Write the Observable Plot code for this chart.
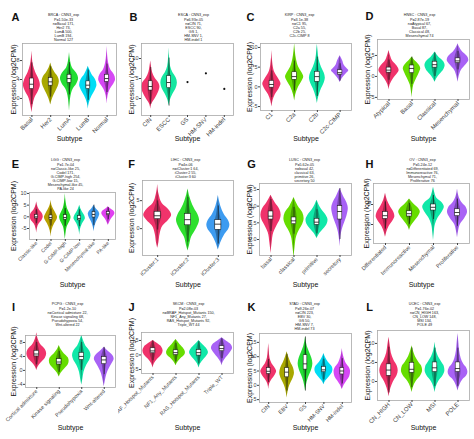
<!DOCTYPE html>
<html><head><meta charset="utf-8">
<script src="https://cdn.jsdelivr.net/npm/d3@7"></script>
<script src="https://cdn.jsdelivr.net/npm/@observablehq/plot@0.6"></script>
<style>
body{margin:0;background:#fff;}
#wrap{position:relative;width:474px;height:439px;overflow:hidden;background:#fff;}
#wrap svg{position:absolute;overflow:hidden;}
</style></head><body><div id="wrap"></div>
<script>
// ---------- palettes ----------
const pal3 = ["#F0336B", "#2EE02E", "#3D9BF0"];
const pal4 = ["#F0336B", "#66DD00", "#10E8A8", "#A862F5"];
const pal5 = ["#F0336B", "#A8A800", "#22DD33", "#00DDF5", "#D648F5"];
const pal2B = ["#F0336B", "#14E6A0", "#333", "#333", "#333"];
const pal6 = ["#F0336B", "#B8A000", "#22DD22", "#10E8A8", "#3D9BF0", "#E040F0"];

// ---------- A: BRCA ----------
const catsA = ["Basal", "Her2", "LumA", "LumB", "Normal"];
const profA = [
  [[-3,0],[-1.5,0.06],[0,0.15],[1.5,0.35],[2.8,0.45],[4,0.38],[5.5,0.2],[7,0.08],[10,0]],
  [[-1.4,0],[0,0.1],[1.5,0.28],[2.5,0.4],[3.5,0.46],[4.5,0.4],[5.5,0.22],[6.5,0.08],[7.5,0]],
  [[-2.7,0],[-1,0.03],[0.5,0.08],[2,0.2],[3,0.38],[4.2,0.48],[5.3,0.38],[6.5,0.15],[8,0.05],[9.7,0]],
  [[-2.3,0],[-1,0.05],[0.5,0.2],[1.8,0.38],[2.8,0.46],[4,0.38],[5,0.2],[6,0.08],[6.8,0]],
  [[-1.2,0],[0.5,0.05],[2,0.18],[3,0.35],[4,0.45],[5,0.38],[6,0.2],[7.5,0.08],[9,0.03],[11,0]]
];
const boxA = [[2,3,4.2],[2.7,3.5,4.3],[3.3,4.2,5],[2,2.8,3.6],[3.5,4.2,5]];
const headA = "BRCA : CNN3_exp\nP=1.50e-33\nn=Basal 171,\nHer2 73,\nLumA 500,\nLumB 194,\nNormal 127";

// ---------- B: ESCA ----------
const catsB = ["CIN", "ESCC", "GS", "HM-SNV", "HM-indel"];
const profB = [
  [[-2.7,0],[-1.5,0.05],[0,0.25],[1.5,0.42],[2.9,0.5],[4,0.42],[5,0.25],[6.5,0.1],[8,0.04],[9.4,0]],
  [[-1.9,0],[-0.5,0.06],[1,0.2],[2.5,0.38],[3.9,0.45],[5.2,0.38],[6.5,0.2],[8,0.08],[10,0.03],[12.7,0]],
  null, null, null
];
const boxB = [[2,3,4.3],[2.6,4,5.6],null,null,null];
const singleB = [[3,4.1],[4,6.3],[5,2.4]];
const headB = "ESCA : CNN3_exp\nP=6.93e-05\nn=CIN 71,\nESCC 90,\nGS 1,\nHM-SNV 1,\nHM-indel 1";

// ---------- C: KIRP ----------
const catsC = ["C1", "C2a", "C2b", "C2c-CIMP"];
const profC = [
  [[-5.1,0],[-3.5,0.05],[-2,0.15],[-0.5,0.32],[0.7,0.4],[2,0.3],[3.5,0.14],[5.5,0.05],[9.2,0]],
  [[-3.6,0],[-2,0.05],[0,0.18],[1.5,0.33],[2.5,0.4],[3.5,0.33],[5,0.18],[7,0.08],[9,0.03],[11,0]],
  [[-4.2,0],[-2.5,0.06],[-0.5,0.18],[1,0.3],[2.2,0.35],[3.5,0.3],[5,0.18],[7,0.07],[9,0.03],[10.8,0]],
  [[1.1,0],[2,0.08],[3,0.22],[3.5,0.3],[4.1,0.38],[4.8,0.28],[5.5,0.18],[6.5,0.12],[7.9,0]]
];
const boxC = [[-0.2,0.6,1.5],[1.8,2.6,3.7],[1.3,2.6,3.8],[3.1,3.6,4.2]];
const headC = "KIRP : CNN3_exp\nP=3.1e-38\nn=C1 95,\nC2a 55,\nC2b 25,\nC2c-CIMP 8";

// ---------- D: HNSC ----------
const catsD = ["Atypical", "Basal", "Classical", "Mesenchymal"];
const profD = [
  [[-3.2,0],[-2,0.05],[-0.5,0.2],[0.5,0.35],[1.4,0.44],[2.5,0.35],[3.5,0.18],[5,0.06],[6.2,0]],
  [[-5.1,0],[-3.5,0.03],[-2,0.08],[-0.5,0.2],[1,0.33],[1.8,0.38],[2.8,0.3],[3.8,0.12],[4.6,0]],
  [[-1.4,0],[-0.5,0.08],[0.5,0.22],[1.6,0.38],[2.6,0.44],[3.5,0.38],[4.5,0.18],[5.8,0]],
  [[-1.4,0],[0,0.05],[1.5,0.15],[2.8,0.35],[3.8,0.47],[4.8,0.4],[5.8,0.2],[7,0.06],[7.8,0]]
];
const boxD = [[0.9,1.5,2.1],[0.8,1.9,2.6],[2.1,2.8,3.5],[3.2,3.7,4.3]];
const headD = "HNSC : CNN3_exp\nP=2.87e-19\nn=Atypical 67,\nBasal 87,\nClassical 48,\nMesenchymal 74";

// ---------- E: LGG ----------
const catsE = ["Classic-like", "Codel", "G-CIMP-high", "G-CIMP-low", "Mesenchymal-like", "PA-like"];
const profE = [
  [[-6.9,0],[-5,0.05],[-3,0.18],[-1.5,0.38],[0,0.46],[1.5,0.38],[3,0.18],[5,0.05],[6.4,0]],
  [[-8.6,0],[-6,0.06],[-3,0.25],[-1.5,0.4],[-0.3,0.46],[1,0.38],[3,0.2],[5,0.06],[7.1,0]],
  [[-9.7,0],[-7,0.05],[-4,0.15],[-2,0.32],[-0.3,0.4],[1.5,0.3],[3.5,0.15],[6,0.06],[10,0]],
  [[-7.9,0],[-5.5,0.05],[-3,0.2],[-1.5,0.35],[-0.7,0.4],[0.5,0.35],[2,0.2],[3.5,0.08],[5,0]],
  [[-6.4,0],[-4.5,0.05],[-2.5,0.15],[-0.5,0.32],[1.1,0.4],[2.5,0.3],[3.5,0.15],[5,0]],
  [[-3.6,0],[-2.5,0.08],[-1,0.2],[0.3,0.38],[1.4,0.46],[2.5,0.38],[3.5,0.15],[4.3,0]]
];
const boxE = [[-0.7,0,0.8],[-1.2,-0.3,0.6],[-1.2,-0.3,0.7],[-1.5,-0.7,0.3],[-0.3,1,2],[0.7,1.3,2]];
const headE = "LGG : CNN3_exp\nP=1.7e-04\nn=Classic-like 25,\nCodel 171,\nG-CIMP-high 254,\nG-CIMP-low 15,\nMesenchymal-like 45,\nPA-like 24";

// ---------- F: LIHC ----------
const catsF = ["iCluster:1", "iCluster:2", "iCluster:3"];
const profF = [
  [[-3.5,0],[-2.5,0.04],[-1,0.08],[0.5,0.18],[1.5,0.36],[2.4,0.46],[3.3,0.38],[4.5,0.15],[6,0.05],[7.9,0]],
  [[-4,0],[-3,0.05],[-1.5,0.12],[0,0.28],[1.5,0.38],[2.5,0.33],[3.5,0.22],[5,0.1],[7.1,0]],
  [[-3.8,0],[-2.5,0.08],[-1,0.22],[0,0.35],[0.6,0.38],[1.5,0.33],[2.5,0.2],[4,0.08],[5.9,0]]
];
const boxF = [[1.7,2.3,3],[0.6,1.6,2.6],[-0.2,0.8,1.5]];
const headF = "LIHC : CNN3_exp\nP=4e-06\nn=iCluster:1 64,\niCluster:2 55,\niCluster:3 60";

// ---------- G: LUSC ----------
const catsG = ["basal", "classical", "primitive", "secretory"];
const profG = [
  [[-2.1,0],[-0.5,0.05],[1,0.12],[2,0.25],[3,0.4],[3.65,0.44],[4.5,0.38],[5.5,0.18],[6.65,0]],
  [[-2.8,0],[-1,0.05],[0.5,0.12],[1.5,0.25],[2.3,0.38],[3.1,0.44],[4,0.38],[5,0.18],[6.3,0]],
  [[0.15,0],[0.8,0.1],[1.6,0.3],[2.3,0.44],[2.9,0.48],[3.6,0.4],[4.5,0.2],[5.9,0]],
  [[-1.1,0],[0.5,0.04],[1.5,0.1],[2.5,0.2],[3.5,0.3],[4.65,0.36],[5.5,0.3],[6.5,0.15],[7.65,0]]
];
const boxG = [[3,3.5,4.2],[2.3,2.8,3.3],[2.2,2.6,3.1],[3,4.2,5]];
const headG = "LUSC : CNN3_exp\nP=5.62e-05\nn=basal 42,\nclassical 63,\nprimitive 26,\nsecretory 50";

// ---------- H: OV ----------
const catsH = ["Differentiated", "Immunoreactive", "Mesenchymal", "Proliferative"];
const profH = [
  [[-3.2,0],[-2,0.05],[-0.5,0.15],[1,0.32],[2,0.39],[3,0.35],[4.5,0.2],[6,0.08],[7.8,0]],
  [[-1.5,0],[-0.5,0.06],[0.5,0.18],[1.8,0.35],[3.1,0.45],[4,0.38],[5,0.2],[6.4,0]],
  [[-4,0],[-2,0.03],[0,0.08],[1.5,0.18],[3,0.35],[4.3,0.45],[5.5,0.35],[6.5,0.15],[8,0.05],[9.3,0]],
  [[-3.3,0],[-1.5,0.05],[0,0.12],[1.5,0.3],[3.1,0.42],[4.3,0.36],[5.5,0.18],[7,0.06],[8.9,0]]
];
const boxH = [[1.4,2.2,3.1],[2,2.7,3.3],[3.5,4.3,5],[2.1,3,3.8]];
const headH = "OV : CNN3_exp\nP=5.24e-12\nn=Differentiated 69,\nImmunoreactive 76,\nMesenchymal 71,\nProliferative 76";

// ---------- I: PCPG ----------
const catsI = ["Cortical admixture", "Kinase signaling", "Pseudohypoxia", "Wnt-altered"];
const profI = [
  [[0,0],[1,0.06],[2.2,0.2],[3.5,0.38],[4.7,0.44],[6,0.38],[7.2,0.2],[9,0.06],[10.8,0]],
  [[-1.9,0],[-0.8,0.08],[0.5,0.25],[1.6,0.4],[2.6,0.44],[3.6,0.4],[4.8,0.22],[6,0.08],[7.1,0]],
  [[-4.2,0],[-2.5,0.05],[-0.5,0.1],[1.5,0.22],[3,0.36],[4.2,0.41],[5.5,0.36],[7,0.18],[8.5,0.08],[10.1,0]],
  [[-4.7,0],[-3,0.05],[-1,0.12],[0.5,0.22],[2,0.35],[3.3,0.44],[4.5,0.35],[5.6,0.15],[6.6,0]]
];
const boxI = [[4,4.7,5.6],[1.7,2.4,3.2],[3,4,5],[1.8,3,3.8]];
const headI = "PCPG : CNN3_exp\nP=1.2e-10\nn=Cortical admixture 22,\nKinase signaling 68,\nPseudohypoxia 54,\nWnt-altered 22";

// ---------- J: SKCM ----------
const catsJ = ["BRAF_Hotspot_Mutants", "NF1_Any_Mutants", "RAS_Hotspot_Mutants", "Triple_WT"];
const profJ = [
  [[-4.5,0],[-3,0.06],[-1.5,0.2],[0,0.38],[1.4,0.44],[2.7,0.38],[4,0.18],[5,0]],
  [[-3.75,0],[-2.5,0.08],[-1,0.25],[0,0.38],[0.8,0.41],[2,0.35],[3.5,0.18],[5.3,0]],
  [[-4.5,0],[-3,0.07],[-1.5,0.22],[0,0.37],[0.8,0.41],[2,0.35],[3.5,0.17],[5,0]],
  [[-3.75,0],[-2.5,0.05],[-1,0.18],[0.5,0.33],[2.3,0.46],[3.5,0.4],[4.7,0.2],[5.9,0]]
];
const boxJ = [[0.6,1.4,2.3],[0,0.8,1.6],[-0.2,0.8,1.7],[1.3,2.2,3]];
const headJ = "SKCM : CNN3_exp\nP=2.08e-03\nn=BRAF_Hotspot_Mutants 150,\nNF1_Any_Mutants 27,\nRAS_Hotspot_Mutants 92,\nTriple_WT 44";

// ---------- K: STAD ----------
const catsK = ["CIN", "EBV", "GS", "HM-SNV", "HM-indel"];
const profK = [
  [[-1.5,0],[0.5,0.05],[2,0.18],[3.5,0.35],[4.8,0.43],[6,0.35],[7.5,0.18],[9.5,0.07],[12,0.03],[14.6,0]],
  [[-4.4,0],[-2,0.06],[0,0.15],[2,0.3],[4.3,0.4],[6,0.35],[8,0.2],[10,0.08],[11.7,0]],
  [[-2.1,0],[0,0.05],[2.5,0.15],[4.5,0.28],[6,0.36],[7.5,0.4],[9.5,0.34],[11.5,0.22],[13.5,0.1],[16.9,0]],
  [[0.2,0],[1.5,0.1],[3,0.3],[4.3,0.45],[5.4,0.49],[6.5,0.45],[8,0.25],[9.5,0.1],[11.1,0]],
  [[-1.5,0],[0,0.1],[1.5,0.25],[3,0.4],[4.8,0.45],[6,0.4],[7.5,0.22],[9.5,0.1],[11,0.04],[12.9,0]]
];
const boxK = [[4,4.9,6],[2.8,4.6,6],[5.5,7.5,10.5],[4.6,5.4,6.4],[3.8,5,6]];
const headK = "STAD : CNN3_exp\nP=9.26e-07\nn=CIN 223,\nEBV 30,\nGS 50,\nHM-SNV 7,\nHM-indel 73";

// ---------- L: UCEC ----------
const catsL = ["CN_HIGH", "CN_LOW", "MSI", "POLE"];
const profL = [
  [[-4,0],[-2.5,0.05],[-1,0.13],[0.5,0.25],[1.5,0.35],[2.8,0.4],[4,0.36],[5.5,0.22],[7.5,0.1],[9.5,0.05],[11.6,0]],
  [[-2.9,0],[-1.5,0.06],[0,0.18],[1.5,0.38],[2.8,0.46],[4,0.42],[5,0.3],[6.5,0.15],[8,0.06],[9.4,0]],
  [[-2.9,0],[-1.5,0.05],[0,0.16],[1.5,0.35],[2.8,0.43],[4,0.4],[5,0.3],[6.5,0.15],[8,0.06],[10.3,0]],
  [[-2.5,0],[-1,0.08],[0.5,0.22],[1.5,0.38],[2.4,0.43],[3.5,0.38],[4.5,0.25],[6,0.14],[8,0.07],[10,0.04],[12.6,0]]
];
const boxL = [[1.5,3,4.5],[2.3,3.2,4.9],[2.5,3.6,5],[2.5,3.4,5]];
const headL = "UCEC : CNN3_exp\nP=1.76e-02\nn=CN_HIGH 163,\nCN_LOW 148,\nMSI 134,\nPOLE 49";

// ---------- tick sets ----------
const ticksA = [0,4,8], ticksB = [0,5,10], ticksC = [-5,0,5,10], ticksD = [-5,0,5];
const ticksE = [-5,0,5,10], ticksF = [0,5], ticksG = [0,2.5,5,7.5], ticksH = [0,5];
const ticksI = [-4,0,4,8], ticksJ = [-5,0,5], ticksK = [-5,0,5,10,15], ticksL = [0,5,10];

// ---------- layout (not data) ----------
const colX = [0,118,236,354], colW = [118,118,118,120];
const rowY = [0,146,292], rowH = [146,146,147];
const panels = [
  {L:"A", r:0,c:0, cats:catsA, prof:profA, box:boxA, pal:pal5, head:headA, ticks:ticksA, dom:[-3.6,11.6], fr:[22,116,43,115], yt:13, ht:13, hx:63, lx:15, ly:17, sy:138, xfs:6},
  {L:"B", r:0,c:1, cats:catsB, prof:profB, box:boxB, pal:pal2B, head:headB, ticks:ticksB, dom:[-4.25,13.75], fr:[141,233,43,115], yt:131, ht:13, hx:193, lx:133, ly:17, sy:138, xfs:6, single:singleB},
  {L:"C", r:0,c:2, cats:catsC, prof:profC, box:boxC, pal:pal4, head:headC, ticks:ticksC, dom:[-6,11], fr:[260,351,43,110], yt:249, ht:13, hx:299, lx:250, ly:17, sy:138, xfs:6},
  {L:"D", r:0,c:3, cats:catsD, prof:profD, box:boxD, pal:pal4, head:headD, ticks:ticksD, dom:[-5.5,8.8], fr:[377,469,39,99], yt:367, ht:13, hx:419, lx:369, ly:16, sy:138, xfs:6},
  {L:"E", r:1,c:0, cats:catsE, prof:profE, box:boxE, pal:pal6, head:headE, ticks:ticksE, dom:[-9.7,10.4], fr:[29,115,192,239], yt:13, ht:158, hx:65, lx:15, ly:164, sy:284, xfs:5},
  {L:"F", r:1,c:1, cats:catsF, prof:profF, box:boxF, pal:pal3, head:headF, ticks:ticksF, dom:[-4.8,8.6], fr:[142,233,180,255], yt:131, ht:158, hx:185, lx:131, ly:164, sy:284, xfs:5.5},
  {L:"G", r:1,c:2, cats:catsG, prof:profG, box:boxG, pal:pal4, head:headG, ticks:ticksG, dom:[-2.4,8.4], fr:[259,351,183,255], yt:249, ht:158, hx:304, lx:251, ly:164, sy:284, xfs:5.5, fmt:".1f"},
  {L:"H", r:1,c:3, cats:catsH, prof:profH, box:boxH, pal:pal4, head:headH, ticks:ticksH, dom:[-4.75,10.25], fr:[373,469,183,243], yt:366, ht:158, hx:422, lx:369, ly:164, sy:284, xfs:5.5},
  {L:"I", r:2,c:0, cats:catsI, prof:profI, box:boxI, pal:pal4, head:headI, ticks:ticksI, dom:[-4.9,10], fr:[25,115,335,387], yt:13, ht:302, hx:67, lx:13, ly:307, sy:427, xfs:5.3},
  {L:"J", r:2,c:1, cats:catsJ, prof:profJ, box:boxJ, pal:pal4, head:headJ, ticks:ticksJ, dom:[-6.4,7.75], fr:[141,233,332,373], yt:131, ht:302, hx:188, lx:131, ly:307, sy:427, xfs:5.3},
  {L:"K", r:2,c:2, cats:catsK, prof:profK, box:boxK, pal:pal5, head:headK, ticks:ticksK, dom:[-6,18.1], fr:[259,351,333,402], yt:249, ht:302, hx:304, lx:251, ly:307, sy:427, xfs:5.5},
  {L:"L", r:2,c:3, cats:catsL, prof:profL, box:boxL, pal:pal4, head:headL, ticks:ticksL, dom:[-5,13.4], fr:[377,469,330,400], yt:367, ht:302, hx:424, lx:369, ly:307, sy:427, xfs:6}
];

const wrap = document.getElementById("wrap");
const FONT = "'Liberation Sans', Arial, sans-serif";

for (const p of panels) {
  const cx = colX[p.c], cy = rowY[p.r], cw = colW[p.c], ch = rowH[p.r];
  const [fl, fr, ft, fb] = p.fr;
  const n = p.cats.length;
  const idx = d3.range(1, n + 1);
  const rows = [];
  p.prof.forEach((pr, i) => { if (pr) pr.forEach(([v, w]) => rows.push({i: i + 1, c: p.cats[i], v, w})); });
  const boxes = [];
  p.box.forEach((b, i) => {
    if (!b) return;
    const pr = p.prof[i];
    const iqr = b[2] - b[0];
    const lo = Math.max(pr[0][0], b[0] - 1.5 * iqr), hi = Math.min(pr[pr.length - 1][0], b[2] + 1.5 * iqr);
    boxes.push({i: i + 1, c: p.cats[i], q1: b[0], med: b[1], q3: b[2], lo, hi});
  });
  const singles = (p.single || []).map(([i, v]) => ({i, v}));
  const fcx = (fl + fr) / 2;
  const bw = 0.1;

  const chart = Plot.plot({
    width: cw, height: ch,
    marginLeft: fl - cx, marginRight: cx + cw - fr,
    marginTop: ft - cy, marginBottom: cy + ch - fb,
    style: {fontFamily: FONT, background: "white", overflow: "hidden"},
    x: {domain: [0.5, n + 0.5]},
    y: {domain: p.dom},
    color: {domain: p.cats, range: p.pal},
    marks: [
      Plot.areaX(rows, {y: "v", x1: d => d.i - d.w, x2: d => d.i + d.w, z: "c", fill: "c", curve: "monotone-y"}),
      Plot.areaX(rows, {y: "v", x1: d => d.i - d.w * 0.3, x2: d => d.i + d.w * 0.3, z: "c", fill: "black", fillOpacity: 0.28, curve: "monotone-y"}),
      Plot.ruleX(boxes, {x: "i", y1: "lo", y2: "hi", stroke: "#111", strokeWidth: 0.6}),
      Plot.rect(boxes, {x1: d => d.i - bw, x2: d => d.i + bw, y1: "q1", y2: "q3", fill: "white", stroke: "#111", strokeWidth: 0.5}),
      Plot.ruleY(boxes, {y: "med", x1: d => d.i - bw, x2: d => d.i + bw, stroke: "#111", strokeWidth: 0.8}),
      Plot.dot(singles, {x: "i", y: "v", r: 1.1, fill: "#111", stroke: null}),
      Plot.frame({stroke: "#a8a8a8", strokeWidth: 0.8}),
      Plot.axisY({ticks: p.ticks, tickFormat: p.fmt ? d3.format(p.fmt) : d => String(d), tickSize: 2, tickPadding: 1, fontSize: 5.5, color: "#444", label: null}),
      Plot.axisX({ticks: idx, tickFormat: i => p.cats[i - 1], tickRotate: -45, tickSize: 2, tickPadding: 1, fontSize: p.xfs, color: "#444", label: null}),
      Plot.text(["Expression (log2CPM)"], {text: d => d, frameAnchor: "left", dx: p.yt - fl, rotate: -90, fontSize: 7, fill: "#111", textAnchor: "middle", lineAnchor: "middle"}),
      Plot.text(["Subtype"], {text: d => d, frameAnchor: "bottom", dy: p.sy - fb, fontSize: 7, fill: "#111", textAnchor: "middle", lineAnchor: "middle"}),
      Plot.text([p.head], {text: d => d, frameAnchor: "top", dx: p.hx - fcx, dy: p.ht - ft, fontSize: 3.7, lineHeight: 1.12, fill: "#222", textAnchor: "middle", lineAnchor: "top"}),
      Plot.text([p.L], {text: d => d, frameAnchor: "top-left", dx: p.lx - fl, dy: p.ly - ft, fontSize: 11, fontWeight: "bold", fill: "#111", textAnchor: "middle", lineAnchor: "middle"})
    ]
  });
  chart.style.left = cx + "px";
  chart.style.top = cy + "px";
  wrap.appendChild(chart);
}
</script>
</body></html>
